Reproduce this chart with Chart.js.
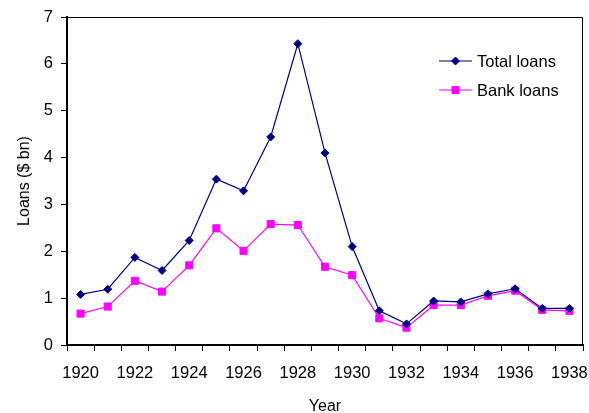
<!DOCTYPE html>
<html>
<head>
<meta charset="utf-8">
<script src="https://cdn.jsdelivr.net/npm/chart.js@4/dist/chart.umd.min.js"></script>
<style>
  html, body { margin: 0; padding: 0; background: #fff; }
  #wrap { width: 589px; height: 413px; }
</style>
</head>
<body>
<div id="wrap"><canvas id="c" width="589" height="413"></canvas></div>
<script>
// Loans outstanding, in billions of dollars, by year
const years = ['1920','1921','1922','1923','1924','1925','1926','1927','1928','1929',
               '1930','1931','1932','1933','1934','1935','1936','1937','1938'];
const totalLoans = [1.08, 1.19, 1.87, 1.59, 2.23, 3.54, 3.29, 4.44, 6.43, 4.10,
                    2.10, 0.73, 0.45, 0.94, 0.92, 1.09, 1.20, 0.78, 0.78];
const bankLoans  = [0.67, 0.82, 1.37, 1.14, 1.70, 2.49, 2.01, 2.58, 2.56, 1.67,
                    1.49, 0.57, 0.37, 0.85, 0.85, 1.05, 1.16, 0.75, 0.73];
const yTicks = [0, 1, 2, 3, 4, 5, 6, 7];

const FONT = 'Liberation Sans, Arial, sans-serif';
const NAVY = '#000080';
const MAGENTA = '#FF00FF';

// Thin frame on the top and right of the plot area
const frame = {
  id: 'frame',
  afterDatasetsDraw(chart) {
    const a = chart.chartArea, ctx = chart.ctx;
    ctx.save();
    ctx.strokeStyle = '#000';
    ctx.lineWidth = 1;
    ctx.beginPath();
    ctx.moveTo(a.left, a.top + 0.5);
    ctx.lineTo(a.right - 0.5, a.top + 0.5);
    ctx.lineTo(a.right - 0.5, a.bottom);
    ctx.stroke();
    ctx.restore();
  }
};

// Legend inside the plot: a line segment with the series marker, then the name
const insideLegend = {
  id: 'insideLegend',
  afterDraw(chart) {
    const ctx = chart.ctx;
    const x0 = 439, x1 = 472, tx = 477;
    const rows = [61, 90];
    ctx.save();
    chart.data.datasets.forEach((ds, i) => {
      const y = rows[i];
      ctx.strokeStyle = ds.borderColor;
      ctx.lineWidth = ds.borderWidth;
      ctx.beginPath();
      ctx.moveTo(x0, y);
      ctx.lineTo(x1, y);
      ctx.stroke();
      ctx.fillStyle = ds.pointBackgroundColor;
      ctx.strokeStyle = ds.pointBorderColor;
      ctx.lineWidth = 1;
      Chart.helpers.drawPoint(ctx, {
        pointStyle: ds.pointStyle,
        radius: ds.pointRadius,
        rotation: 0,
        borderWidth: 1
      }, (x0 + x1) / 2, y);
      ctx.fillStyle = '#000';
      ctx.font = '16.5px ' + FONT;
      ctx.textBaseline = 'middle';
      ctx.textAlign = 'left';
      ctx.fillText(ds.label, tx, y + 1);
    });
    ctx.restore();
  }
};

new Chart(document.getElementById('c'), {
  type: 'line',
  data: {
    labels: years,
    datasets: [
      {
        label: 'Total loans',
        data: totalLoans,
        borderColor: NAVY,
        backgroundColor: NAVY,
        borderWidth: 1.2,
        pointStyle: 'rectRot',
        pointRadius: 4,
        pointBackgroundColor: NAVY,
        pointBorderColor: NAVY,
        pointBorderWidth: 1,
        tension: 0
      },
      {
        label: 'Bank loans',
        data: bankLoans,
        borderColor: MAGENTA,
        backgroundColor: MAGENTA,
        borderWidth: 1.2,
        pointStyle: 'rect',
        pointRadius: 5,
        pointBackgroundColor: MAGENTA,
        pointBorderColor: MAGENTA,
        pointBorderWidth: 1,
        tension: 0
      }
    ]
  },
  options: {
    responsive: false,
    animation: false,
    devicePixelRatio: 1,
    layout: { padding: { left: 0, right: 6, top: 17, bottom: 0 } },
    plugins: {
      legend: { display: false },
      tooltip: { enabled: false }
    },
    scales: {
      x: {
        type: 'category',
        offset: true,
        grid: {
          offset: true,
          drawOnChartArea: false,
          drawTicks: true,
          tickLength: 6,
          color: '#000',
          lineWidth: 1
        },
        border: { display: true, color: '#000', width: 2 },
        ticks: {
          autoSkip: false,
          maxRotation: 0,
          minRotation: 0,
          padding: 13,
          color: '#000',
          font: { family: FONT, size: 16.5 },
          callback: (v, i) => (i % 2 === 0 ? years[i] : '')
        },
        title: {
          display: true,
          text: 'Year',
          color: '#000',
          font: { family: FONT, size: 16 },
          padding: { top: 0, bottom: -3 }
        },
        afterFit: s => { s.height = 68; s.paddingLeft = 0; s.paddingRight = 0; }
      },
      y: {
        min: yTicks[0],
        max: yTicks[yTicks.length - 1],
        afterBuildTicks: s => { s.ticks = yTicks.map(v => ({ value: v })); },
        grid: {
          drawOnChartArea: false,
          drawTicks: true,
          tickLength: 6,
          color: '#000',
          lineWidth: 1
        },
        border: { display: true, color: '#000', width: 2 },
        ticks: {
          padding: 8,
          color: '#000',
          font: { family: FONT, size: 16.5 }
        },
        title: {
          display: true,
          text: 'Loans ($ bn)',
          color: '#000',
          font: { family: FONT, size: 16 },
          padding: { top: 15, bottom: 0 }
        },
        afterFit: s => { s.width = 67; s.paddingTop = 0; s.paddingBottom = 0; }
      }
    }
  },
  plugins: [frame, insideLegend]
});
</script>
</body>
</html>
